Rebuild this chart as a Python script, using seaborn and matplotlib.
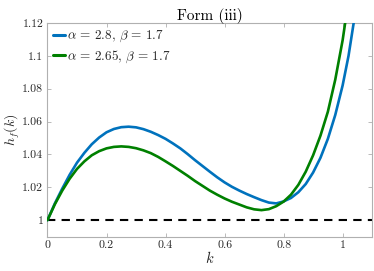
import matplotlib
matplotlib.use("Agg")
import matplotlib.pyplot as plt
import seaborn as sns
import pandas as pd

# ---- data ----
k_blue = [0.0, 0.025, 0.05, 0.075, 0.10, 0.125, 0.15, 0.175, 0.20, 0.225, 0.25, 0.275,
          0.30, 0.325, 0.35, 0.375, 0.40, 0.425, 0.45, 0.475, 0.50, 0.525, 0.55, 0.575,
          0.60, 0.625, 0.65, 0.675, 0.70, 0.725, 0.75, 0.775, 0.80, 0.825, 0.85,
          0.875, 0.90, 0.925, 0.95, 0.975, 1.00, 1.02, 1.04, 1.06]
h_blue = [1.0000, 1.0102, 1.0192, 1.0276, 1.0350, 1.0410, 1.0462, 1.0503, 1.0535,
          1.0555, 1.0566, 1.0569, 1.0565, 1.0554, 1.0538, 1.0518, 1.0495, 1.0467,
          1.0437, 1.0402, 1.0365, 1.0330, 1.0295, 1.0261, 1.0230, 1.0203, 1.0180,
          1.0159, 1.0140, 1.0122, 1.0107, 1.0102, 1.0114, 1.0135, 1.0170, 1.0220,
          1.0290, 1.0380, 1.0495, 1.0640, 1.0820, 1.1000, 1.1230, 1.1480]

k_green = [0.0, 0.025, 0.05, 0.075, 0.10, 0.125, 0.15, 0.175, 0.20, 0.225, 0.25, 0.275,
           0.30, 0.325, 0.35, 0.375, 0.40, 0.425, 0.45, 0.475, 0.50, 0.525, 0.55,
           0.575, 0.60, 0.625, 0.65, 0.675, 0.70, 0.725, 0.75, 0.775, 0.80, 0.825,
           0.85, 0.875, 0.90, 0.925, 0.95, 0.975, 1.00, 1.02]
h_green = [1.0000, 1.0097, 1.0180, 1.0252, 1.0312, 1.0358, 1.0395, 1.0420, 1.0437,
           1.0446, 1.0449, 1.0446, 1.0438, 1.0425, 1.0408, 1.0385, 1.0358, 1.0330,
           1.0300, 1.0270, 1.0238, 1.0209, 1.0180, 1.0155, 1.0132, 1.0112, 1.0095,
           1.0078, 1.0066, 1.0061, 1.0067, 1.0085, 1.0113, 1.0155, 1.0215, 1.0295,
           1.0395, 1.0515, 1.0660, 1.0855, 1.1095, 1.1340]

labels = [r"$\alpha\,=\,2.8$, $\beta\,=\,1.7$", r"$\alpha\,=\,2.65$, $\beta\,=\,1.7$"]
colors = ["#0072BD", "#008000"]

xticks = [0, 0.2, 0.4, 0.6, 0.8, 1.0]
xticklabels = ["0", "0.2", "0.4", "0.6", "0.8", "1"]
yticks = [1.0, 1.02, 1.04, 1.06, 1.08, 1.10, 1.12]
yticklabels = ["1", "1.02", "1.04", "1.06", "1.08", "1.1", "1.12"]

title = "Form (iii)"
xlabel = r"$k$"
ylabel = r"$h_f(k)$"

# ---- build table ----
df = pd.concat([
    pd.DataFrame({"k": k_blue, "h": h_blue, "series": labels[0]}),
    pd.DataFrame({"k": k_green, "h": h_green, "series": labels[1]}),
], ignore_index=True)

sns.set_style("ticks")
plt.rcParams["font.family"] = ["cmr10", "DejaVu Serif"]
plt.rcParams["mathtext.fontset"] = "cm"
plt.rcParams["axes.formatter.use_mathtext"] = True
plt.rcParams["lines.solid_joinstyle"] = "round"

fig = plt.figure(figsize=(3.74, 2.71), dpi=100)
ax = fig.add_axes([0.127, 0.127, 0.868, 0.788])

ax.axhline(1.0, color="black", lw=1.5, ls=(0, (4, 3)), zorder=1)

sns.lineplot(data=df, x="k", y="h", hue="series", palette=colors,
             sort=False, estimator=None, lw=1.9, ax=ax, zorder=3)

ax.set_xlim(0, 1.1)
ax.set_ylim(0.99, 1.12)
ax.set_xticks(xticks)
ax.set_xticklabels(xticklabels)
ax.set_yticks(yticks)
ax.set_yticklabels(yticklabels)

gray = "#262626"
for sp in ax.spines.values():
    sp.set_visible(True)
    sp.set_color("#b0b0b0")
    sp.set_linewidth(0.8)
ax.tick_params(direction="in", length=3, width=0.6, color="#b0b0b0",
               labelsize=8.5, labelcolor=gray, top=True, right=True, pad=3)

ax.set_title(title, fontsize=11, color="black", pad=2)
ax.set_xlabel(xlabel, fontsize=10.5, color=gray, labelpad=0)
ax.set_ylabel(ylabel, fontsize=10, color=gray, labelpad=0)

leg = ax.legend(loc="upper left", frameon=False, fontsize=9.5,
                handlelength=0.9, handletextpad=0.15, borderaxespad=0.25,
                labelspacing=0.3, borderpad=0.2)
for line in leg.get_lines():
    line.set_linewidth(2.2)

fig.savefig("out.png", dpi=100)
